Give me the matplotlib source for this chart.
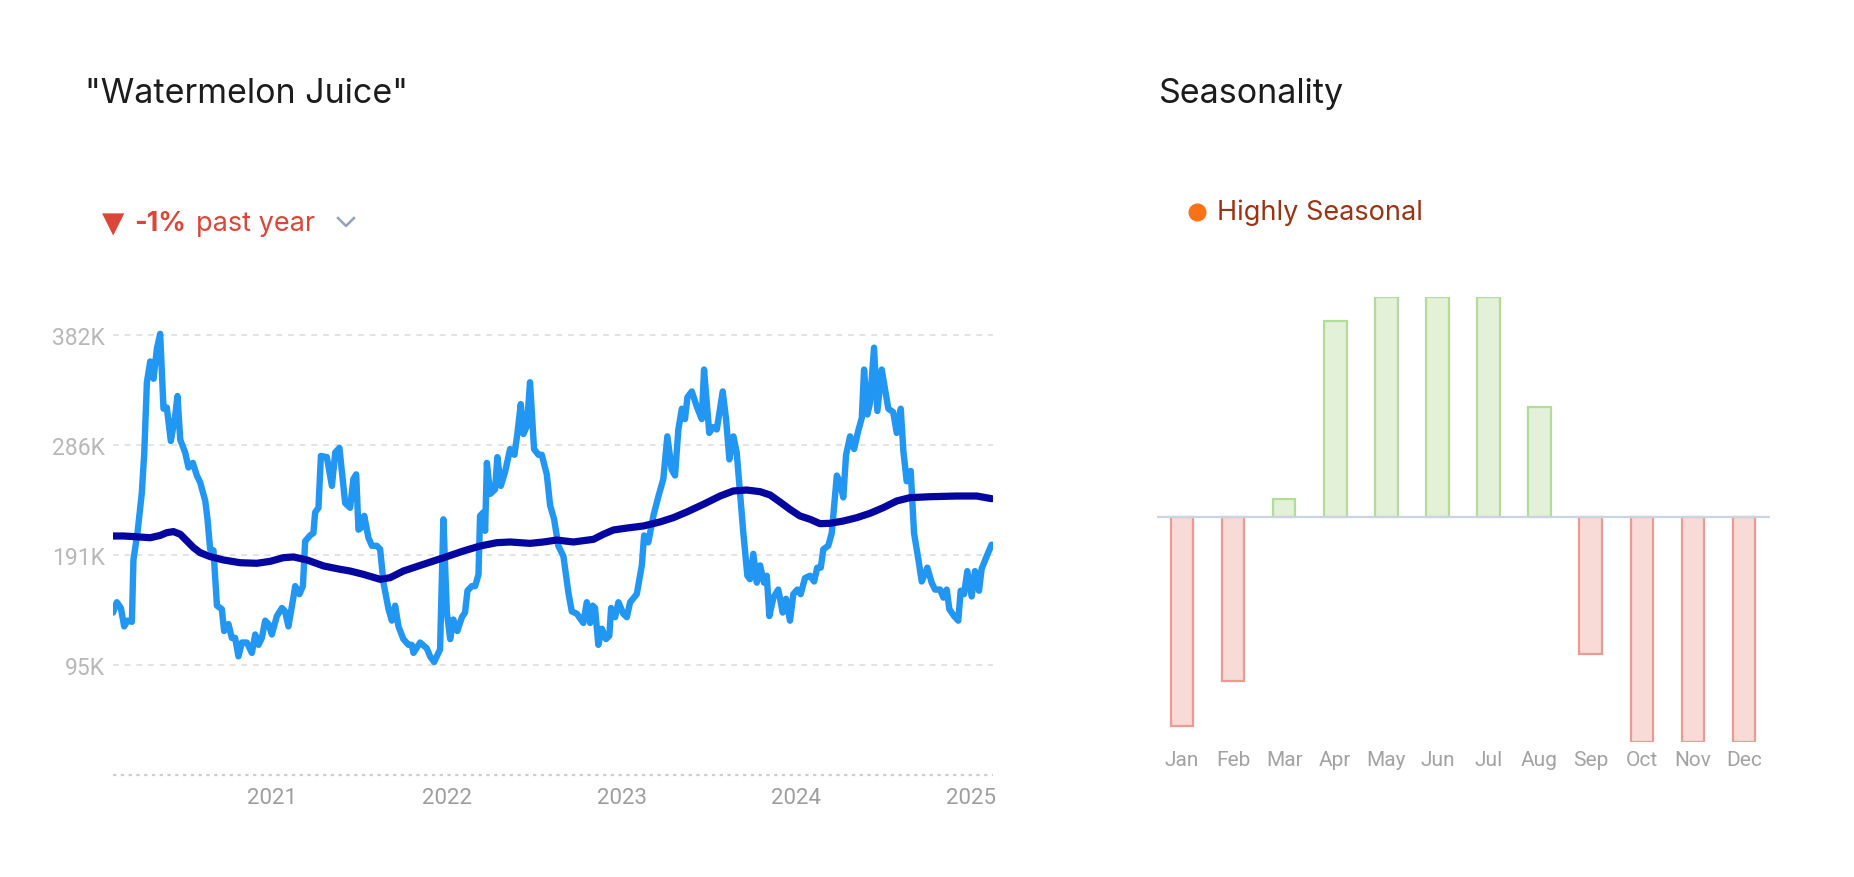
"""
Watermelon Juice - search trend with seasonality panel.
"""

import matplotlib
matplotlib.use("Agg")
import matplotlib.pyplot as plt
from matplotlib.ticker import FuncFormatter
from matplotlib.lines import Line2D

# weekly interest (thousands); time as decimal year
trend_t = [
    2020.089, 2020.111, 2020.134, 2020.153, 2020.172, 2020.197, 2020.206, 2020.229,
    2020.254, 2020.268, 2020.283, 2020.302, 2020.321, 2020.340, 2020.359, 2020.378,
    2020.397, 2020.420, 2020.445, 2020.458, 2020.474, 2020.502, 2020.521, 2020.546,
    2020.569, 2020.588, 2020.617, 2020.630, 2020.645, 2020.664, 2020.684, 2020.712,
    2020.725, 2020.750, 2020.769, 2020.788, 2020.807, 2020.827, 2020.855, 2020.884,
    2020.903, 2020.922, 2020.941, 2020.960, 2020.979, 2020.998, 2021.027, 2021.056,
    2021.074, 2021.093, 2021.118, 2021.132, 2021.156, 2021.176, 2021.189, 2021.217,
    2021.236, 2021.246, 2021.265, 2021.279, 2021.313, 2021.342, 2021.361, 2021.385,
    2021.418, 2021.446, 2021.465, 2021.481, 2021.494, 2021.513, 2021.527, 2021.551,
    2021.571, 2021.599, 2021.618, 2021.637, 2021.666, 2021.685, 2021.704, 2021.723,
    2021.751, 2021.780, 2021.799, 2021.809, 2021.847, 2021.885, 2021.904, 2021.927,
    2021.961, 2021.980, 2022.000, 2022.019, 2022.037, 2022.060, 2022.086, 2022.104,
    2022.118, 2022.143, 2022.162, 2022.181, 2022.190, 2022.209, 2022.219, 2022.229,
    2022.248, 2022.276, 2022.289, 2022.309, 2022.333, 2022.362, 2022.387, 2022.404,
    2022.423, 2022.438, 2022.458, 2022.476, 2022.499, 2022.524, 2022.543, 2022.572,
    2022.591, 2022.614, 2022.638, 2022.667, 2022.696, 2022.715, 2022.744, 2022.781,
    2022.801, 2022.820, 2022.835, 2022.848, 2022.867, 2022.887, 2022.911, 2022.930,
    2022.940, 2022.963, 2022.982, 2023.010, 2023.030, 2023.049, 2023.087, 2023.116,
    2023.129, 2023.153, 2023.182, 2023.211, 2023.239, 2023.262, 2023.287, 2023.306,
    2023.325, 2023.345, 2023.363, 2023.377, 2023.402, 2023.430, 2023.459, 2023.472,
    2023.488, 2023.502, 2023.522, 2023.545, 2023.579, 2023.598, 2023.617, 2023.640,
    2023.659, 2023.678, 2023.697, 2023.720, 2023.735, 2023.754, 2023.774, 2023.793,
    2023.815, 2023.831, 2023.846, 2023.869, 2023.897, 2023.922, 2023.941, 2023.964,
    2023.983, 2024.006, 2024.025, 2024.050, 2024.079, 2024.102, 2024.120, 2024.140,
    2024.155, 2024.183, 2024.203, 2024.232, 2024.250, 2024.269, 2024.285, 2024.308,
    2024.331, 2024.355, 2024.375, 2024.388, 2024.407, 2024.422, 2024.445, 2024.464,
    2024.489, 2024.508, 2024.527, 2024.555, 2024.575, 2024.598, 2024.613, 2024.632,
    2024.655, 2024.674, 2024.699, 2024.718, 2024.750, 2024.775, 2024.794, 2024.823,
    2024.842, 2024.861, 2024.876, 2024.903, 2024.927, 2024.941, 2024.960, 2024.979,
    2025.004, 2025.023, 2025.046, 2025.061, 2025.090, 2025.118,
]
trend_v = [
    141, 150, 145, 129, 134, 133, 187, 210,
    245, 280, 341, 359, 344, 370, 383, 318,
    319, 290, 312, 329, 291, 280, 267, 271,
    260, 254, 238, 222, 196, 195, 147, 144,
    125, 131, 119, 119, 103, 115, 115, 106,
    122, 113, 119, 134, 131, 122, 138, 145,
    142, 129, 151, 164, 157, 164, 203, 208,
    210, 228, 232, 277, 276, 251, 280, 284,
    236, 232, 257, 261, 213, 215, 225, 206,
    199, 199, 196, 167, 144, 134, 147, 129,
    118, 113, 113, 106, 115, 110, 103, 98,
    109, 222, 141, 118, 135, 125, 137, 141,
    160, 164, 164, 174, 225, 228, 212, 271,
    244, 248, 276, 251, 263, 283, 278, 297,
    322, 296, 303, 341, 283, 278, 278, 261,
    234, 222, 199, 190, 158, 142, 140, 132,
    150, 132, 147, 145, 113, 127, 118, 121,
    145, 137, 150, 140, 137, 150, 157, 182,
    208, 202, 225, 242, 257, 294, 265, 260,
    300, 318, 309, 328, 333, 320, 309, 352,
    323, 297, 302, 300, 333, 309, 274, 294,
    280, 245, 210, 173, 170, 192, 167, 182,
    167, 173, 138, 154, 161, 141, 153, 134,
    157, 161, 157, 171, 173, 168, 180, 180,
    196, 199, 210, 260, 254, 241, 278, 294,
    283, 299, 310, 352, 313, 323, 371, 316,
    352, 335, 318, 315, 297, 318, 281, 255,
    264, 210, 187, 168, 180, 167, 161, 161,
    154, 161, 144, 138, 134, 160, 157, 177,
    155, 177, 160, 179, 190, 200,
]

# smoothed average line
avg_t = [
    2020.089, 2020.149, 2020.206, 2020.302, 2020.359, 2020.397, 2020.435, 2020.474,
    2020.512, 2020.550, 2020.588, 2020.645, 2020.721, 2020.817, 2020.912, 2020.989,
    2021.065, 2021.122, 2021.199, 2021.294, 2021.389, 2021.446, 2021.522, 2021.618,
    2021.675, 2021.751, 2021.866, 2022.000, 2022.095, 2022.190, 2022.286, 2022.362,
    2022.476, 2022.553, 2022.629, 2022.724, 2022.839, 2022.896, 2022.953, 2023.030,
    2023.125, 2023.220, 2023.296, 2023.373, 2023.468, 2023.564, 2023.640, 2023.716,
    2023.793, 2023.850, 2023.907, 2023.964, 2024.021, 2024.079, 2024.136, 2024.193,
    2024.269, 2024.346, 2024.422, 2024.498, 2024.575, 2024.651, 2024.765, 2024.918,
    2025.033, 2025.118,
]
avg_v = [
    207.5, 207.5, 207, 206, 208, 210.4, 211.3, 209,
    203.2, 197.4, 193, 189.6, 186.7, 184.3, 183.8, 185.5,
    188.7, 189.3, 186.7, 181.5, 178.6, 177.1, 174.2, 169.9,
    171.3, 177.1, 182.9, 189.6, 194.5, 198.8, 201.7, 202.3,
    201.1, 202.3, 204, 202.3, 204.6, 209, 212.7, 214.4,
    216.2, 219.7, 223.4, 228.3, 235, 242.2, 246.6, 247.4,
    246, 243.1, 237, 230.6, 224.9, 222, 218.2, 218.5,
    220.5, 223.4, 227.2, 232.1, 237.9, 240.8, 241.6, 242.2,
    242.2, 239.9,
]

year_ticks = [2021, 2022, 2023, 2024, 2025]
y_top = 382

months = ["Jan", "Feb", "Mar", "Apr", "May", "Jun",
          "Jul", "Aug", "Sep", "Oct", "Nov", "Dec"]
season = [-0.93, -0.73, 0.08, 0.875, 0.98, 0.98,
          0.98, 0.49, -0.61, -1.0, -1.0, -1.0]

W, H = 1854, 878
FONT = "Inter"


def fx(px):
    return px / W


def fy(py):
    return 1 - py / H


fig = plt.figure(figsize=(W / 100, H / 100), dpi=100)
fig.patch.set_facecolor("white")

# ---- left: trend line ----
ax = fig.add_axes([fx(113), fy(776), fx(993) - fx(113), fy(290) - fy(776)])
ax.plot(trend_t, trend_v, color="#2196f3", lw=4.6, solid_joinstyle="round",
        solid_capstyle="round", zorder=3)
ax.plot(avg_t, avg_v, color="#0505a0", lw=5.2, solid_joinstyle="round",
        solid_capstyle="round", zorder=4)
ax.set_xlim(2020.089, 2025.126)
ax.set_ylim(0, y_top * 486 / 440)

grid_vals = [y_top * k / 4 for k in (1, 2, 3, 4)]
for g in grid_vals:
    ax.axhline(g, color="#e3e3e3", lw=1.4, ls=(0, (3, 3)), zorder=1)
ax.axhline(0, color="#cfcfcf", lw=1.6, ls=(0, (1.5, 2)), zorder=1, clip_on=False)

ax.set_yticks(grid_vals)
ax.yaxis.set_major_formatter(FuncFormatter(lambda v, p: f"{int(v)}K"))
ax.set_xticks(year_ticks)
ax.set_xticklabels([str(y) for y in year_ticks])
ax.tick_params(axis="y", length=0, pad=6, labelsize=16.5, labelcolor="#b8b8b8")
ax.tick_params(axis="x", length=0, pad=9, labelsize=16, labelcolor="#9e9e9e")
for lab in ax.get_xticklabels() + ax.get_yticklabels():
    lab.set_fontfamily("Roboto")
for s in ax.spines.values():
    s.set_visible(False)

# ---- right: seasonality bars ----
ax2 = fig.add_axes([fx(1156.5), fy(742.5), fx(1769.5) - fx(1156.5), fy(298) - fy(742.5)])
xs = list(range(len(months)))
face = ["#e2f1d8" if v > 0 else "#f8dad7" for v in season]
edge = ["#b3dc9b" if v > 0 else "#ec9b94" for v in season]
ax2.bar(xs, season, width=0.44, color=face, edgecolor=edge, linewidth=1.6, zorder=2)
ax2.axhline(0, color="#cbd5e1", lw=1.6, zorder=3)
ax2.set_xlim(-0.5, 11.5)
ax2.set_ylim(-1.0, 0.98)
ax2.set_xticks(xs)
ax2.set_xticklabels(months, fontfamily="Roboto")
ax2.set_yticks([])
ax2.tick_params(axis="x", length=0, pad=6, labelsize=15, labelcolor="#a3a3a3")
for s in ax2.spines.values():
    s.set_visible(False)

# ---- headings and badges ----
fig.text(fx(85), fy(94), '"Watermelon Juice"', fontsize=24.5, color="#1c1c1c",
         family=FONT, va="center", ha="left")
fig.text(fx(1159), fy(94), "Seasonality", fontsize=24.5, color="#1c1c1c",
         family=FONT, va="center", ha="left")

red = "#dc4638"
fig.text(fx(102), fy(224), "\u25bc", fontsize=21, color=red,
         family="DejaVu Sans", va="center", ha="left")
fig.text(fx(134), fy(224), "-1%", fontsize=19.5, color=red, weight="bold",
         family=FONT, va="center", ha="left")
fig.text(fx(196), fy(224), "past year", fontsize=19.5, color=red,
         family=FONT, va="center", ha="left")
fig.add_artist(Line2D([fx(338), fx(346), fx(354)], [fy(219), fy(227), fy(219)],
                      color="#94a3b8", lw=1.8, transform=fig.transFigure))

fig.add_artist(Line2D([fx(1197)], [fy(213)], marker="o", markersize=12,
                      color="#f97316", transform=fig.transFigure))
fig.text(fx(1217), fy(213), "Highly Seasonal", fontsize=19.5, color="#9a3412",
         family=FONT, va="center", ha="left")

fig.savefig("out.png", dpi=100, facecolor="white")
